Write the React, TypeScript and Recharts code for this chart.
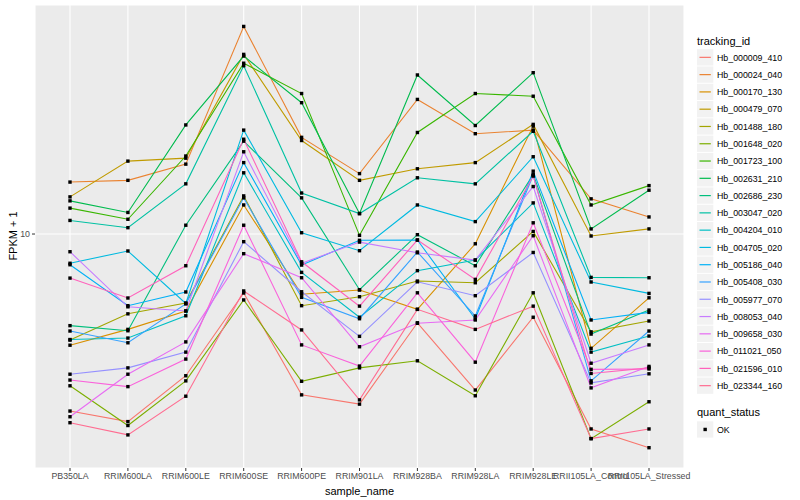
import { LineChart, Line, XAxis, YAxis, CartesianGrid } from "recharts";

const sampleNames = [
  "PB350LA",
  "RRIM600LA",
  "RRIM600LE",
  "RRIM600SE",
  "RRIM600PE",
  "RRIM901LA",
  "RRIM928BA",
  "RRIM928LA",
  "RRIM928LE",
  "RRII105LA_Control",
  "RRII105LA_Stressed",
];

const trackingIds = [
  "Hb_000009_410",
  "Hb_000024_040",
  "Hb_000170_130",
  "Hb_000479_070",
  "Hb_001488_180",
  "Hb_001648_020",
  "Hb_001723_100",
  "Hb_002631_210",
  "Hb_002686_230",
  "Hb_003047_020",
  "Hb_004204_010",
  "Hb_004705_020",
  "Hb_005186_040",
  "Hb_005408_030",
  "Hb_005977_070",
  "Hb_008053_040",
  "Hb_009658_030",
  "Hb_011021_050",
  "Hb_021596_010",
  "Hb_023344_160",
];

// ggplot default hue palette, 20 levels
const colors = [
  "#F8766D", "#EA8331", "#D89000", "#C09B00", "#A3A500",
  "#7CAE00", "#39B600", "#00BB4E", "#00BF7D", "#00C1A3",
  "#00BFC4", "#00BAE0", "#00B0F6", "#35A2FF", "#9590FF",
  "#C77CFF", "#E76BF3", "#FA62DB", "#FF62BC", "#FF6C91",
];

// FPKM + 1, one value per sample
const hb000009 = [2.57, 2.37, 3.37, 6.36, 2.91, 2.71, 5.06, 3.02, 5.28, 2.24, 1.94];
const hb000024 = [14.9, 15.1, 17.1, 49.2, 21.0, 15.9, 28.1, 21.6, 22.2, 13.1, 11.4];
const hb000170 = [4.26, 4.81, 5.54, 12.5, 6.3, 6.51, 5.61, 9.28, 22.9, 4.16, 6.13];
const hb000479 = [13.3, 17.5, 17.9, 39.7, 20.5, 15.1, 16.5, 17.3, 23.2, 9.85, 10.4];
const hb001488 = [4.43, 5.42, 5.89, 13.4, 5.77, 6.18, 6.97, 6.88, 10.2, 4.72, 5.13];
const hb001648 = [3.12, 2.3, 3.24, 6.03, 3.23, 3.58, 3.78, 2.89, 6.37, 2.08, 2.76];
const hb001723 = [12.2, 11.2, 18.2, 37.1, 29.4, 9.9, 21.8, 29.4, 28.8, 12.5, 14.5];
const hb002631 = [12.9, 11.8, 23.1, 39.2, 27.4, 11.7, 33.9, 23.0, 34.5, 10.4, 14.0];
const hb002686 = [4.95, 4.76, 10.7, 20.4, 13.2, 6.52, 9.95, 7.84, 15.8, 4.64, 5.58];
const hb003047 = [11.1, 10.5, 14.7, 36.4, 13.7, 11.7, 15.4, 14.7, 22.0, 7.17, 7.15];
const hb004204 = [4.45, 4.5, 5.34, 16.0, 7.45, 5.28, 7.55, 8.19, 12.7, 4.04, 4.57];
const hb004705 = [7.99, 8.78, 5.87, 22.2, 10.1, 8.8, 12.5, 11.0, 18.1, 6.92, 6.34];
const hb005186 = [7.9, 5.77, 6.41, 17.3, 7.88, 9.53, 9.55, 5.21, 16.2, 5.17, 5.48];
const hb005408 = [4.75, 4.34, 5.85, 13.2, 6.15, 5.22, 8.71, 5.33, 15.7, 3.24, 4.75];
const hb005977 = [3.41, 3.58, 4.04, 9.43, 6.42, 4.56, 6.93, 6.23, 8.68, 3.19, 3.42];
const hb008053 = [8.73, 5.72, 5.54, 18.8, 7.99, 9.4, 8.66, 8.19, 14.4, 3.71, 4.27];
const hb009658 = [2.46, 3.41, 4.37, 8.6, 7.15, 4.21, 5.04, 5.17, 9.87, 3.07, 3.62];
const hb011021 = [3.26, 3.1, 3.83, 10.7, 4.27, 3.63, 6.37, 3.74, 10.9, 3.54, 3.55];
const hb021596 = [7.13, 6.12, 7.84, 20.7, 8.08, 5.75, 9.55, 7.06, 15.6, 3.43, 3.58];
const hb023344 = [2.35, 2.14, 2.88, 6.46, 4.79, 2.8, 5.61, 4.81, 5.75, 2.08, 2.24];

const seriesValues = [
  hb000009, hb000024, hb000170, hb000479, hb001488,
  hb001648, hb001723, hb002631, hb002686, hb003047,
  hb004204, hb004705, hb005186, hb005408, hb005977,
  hb008053, hb009658, hb011021, hb021596, hb023344,
];

const yTicks = [10];

const data = sampleNames.map((name, i) => {
  const row: Record<string, string | number> = { sample_name: name };
  trackingIds.forEach((id, k) => {
    row[id] = seriesValues[k][i];
  });
  return row;
});

const FONT = '"Liberation Sans", Arial, Helvetica, sans-serif';

const SquareDot = (props: any) => {
  const { cx, cy, index, dataKey } = props;
  if (cx == null || cy == null) return <g key={`${dataKey}-${index}`} />;
  return (
    <rect
      key={`${dataKey}-${index}`}
      x={cx - 1.7}
      y={cy - 1.7}
      width={3.4}
      height={3.4}
      fill="#000000"
    />
  );
};

const XTitle = () => (
  <text x={359.5} y={491} textAnchor="middle" dominantBaseline="central" fontSize={11} fill="#000" fontFamily={FONT}>
    sample_name
  </text>
);

const YTitle = () => (
  <text
    x={13}
    y={236}
    textAnchor="middle"
    dominantBaseline="central"
    fontSize={11}
    fill="#000"
    fontFamily={FONT}
    transform="rotate(-90 13 236)"
  >
    FPKM + 1
  </text>
);

const ROW = 17.28;

// legend drawn beside the panel, ggplot style
const LegendPanel = () => (
  <svg
    width={800}
    height={500}
    style={{ position: "absolute", left: 0, top: 0, pointerEvents: "none" }}
    fontFamily={FONT}
  >
    <text x={697} y={40.7} fontSize={11} fill="#000" dominantBaseline="central">
      tracking_id
    </text>
    {trackingIds.map((id, i) => {
      const top = 49.2 + i * ROW;
      return (
        <g key={id}>
          <rect x={697} y={top} width={16.3} height={16.3} fill="#F2F2F2" />
          <line x1={699.5} x2={710.8} y1={top + 8.15} y2={top + 8.15} stroke={colors[i]} strokeWidth={1.2} />
          <text x={717} y={top + 8.4} fontSize={8.8} fill="#000" dominantBaseline="central">
            {id}
          </text>
        </g>
      );
    })}
    <text x={697} y={412.3} fontSize={11} fill="#000" dominantBaseline="central">
      quant_status
    </text>
    <rect x={697} y={421.3} width={16.3} height={16.3} fill="#F2F2F2" />
    <rect x={703.45} y={427.75} width={3.4} height={3.4} fill="#000" />
    <text x={717} y={429.7} fontSize={8.8} fill="#000" dominantBaseline="central">
      OK
    </text>
  </svg>
);

export default function App() {
  return (
    <div style={{ position: "absolute", left: 0, top: 0, width: 800, height: 500, background: "#fff" }}>
      <LineChart width={800} height={500} data={data} margin={{ top: 5, right: 116, bottom: 0, left: 0 }}>
        <CartesianGrid fill="#EBEBEB" stroke="#FFFFFF" strokeWidth={1.1} />
        <XAxis
          dataKey="sample_name"
          interval={0}
          height={32}
          padding={{ left: 35, right: 35 }}
          axisLine={false}
          tickSize={3}
          tickLine={{ stroke: "#333333" }}
          tick={{ fill: "#4D4D4D", fontSize: 8.8, fontFamily: FONT }}
          label={<XTitle />}
        />
        <YAxis
          scale="log"
          domain={[1.66, 58]}
          ticks={yTicks}
          allowDataOverflow
          width={35}
          axisLine={false}
          tickSize={3}
          tickLine={{ stroke: "#333333" }}
          tick={{ fill: "#4D4D4D", fontSize: 8.8, fontFamily: FONT }}
          label={<YTitle />}
        />
        {trackingIds.map((id, i) => (
          <Line
            key={id}
            type="linear"
            dataKey={id}
            stroke={colors[i]}
            strokeWidth={1.1}
            dot={false}
            activeDot={false}
            isAnimationActive={false}
          />
        ))}
        {trackingIds.map((id) => (
          <Line
            key={`${id}-pts`}
            type="linear"
            dataKey={id}
            stroke="none"
            dot={SquareDot}
            activeDot={false}
            legendType="none"
            isAnimationActive={false}
          />
        ))}
      </LineChart>
      <LegendPanel />
    </div>
  );
}
